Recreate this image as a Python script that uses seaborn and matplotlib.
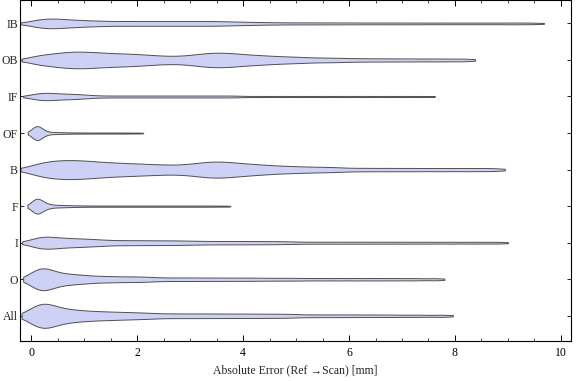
import numpy as np
import pandas as pd
import seaborn as sns
import matplotlib.pyplot as plt
from matplotlib.ticker import MultipleLocator

categories = ["IB", "OB", "IF", "OF", "B", "F", "I", "O", "All"]

err_ib = [0.02, 0.1, 0.18, 0.25, 0.3, 0.36, 0.43, 0.5, 0.58, 0.66, 0.75, 0.85, 0.95,
          1.06, 1.18, 1.3, 1.45, 1.6, 1.75, 1.9, 2.05, 2.2, 2.35, 2.5, 2.65, 2.8, 2.95,
          3.1, 3.25, 3.4, 3.55, 3.7, 3.9, 4.1, 4.35, 4.65, 5.0, 5.35, 5.72, 6.1, 6.5,
          6.9, 7.32, 7.75, 8.18, 8.62, 9.05, 9.46]
err_ob = [0.05, 0.15, 0.27, 0.4, 0.52, 0.6, 0.68, 0.76, 0.84, 0.92, 1.0, 1.08, 1.17,
          1.26, 1.35, 1.45, 1.55, 1.66, 1.76, 1.87, 1.98, 2.1, 2.23, 2.37, 2.53, 2.72,
          2.9, 3.05, 3.17, 3.28, 3.37, 3.46, 3.55, 3.64, 3.73, 3.83, 3.94, 4.06, 4.19,
          4.33, 4.48, 4.65, 4.85, 5.05, 5.3, 5.6, 5.9, 6.3, 6.73, 7.18, 7.66, 8.15]
err_if = [0.03, 0.09, 0.14, 0.19, 0.23, 0.27, 0.32, 0.38, 0.45, 0.52, 0.59, 0.66, 0.74,
          0.82, 0.9, 0.99, 1.09, 1.3, 1.52, 1.74, 1.96, 2.18, 2.4, 2.62, 2.84, 3.06,
          3.28, 3.5, 3.72, 3.94, 4.33, 4.72, 5.11, 5.5, 5.89, 6.27, 6.66, 7.05, 7.44]
err_of = [0.02, 0.04, 0.05, 0.06, 0.07, 0.08, 0.09, 0.095, 0.1, 0.105, 0.11, 0.115,
          0.12, 0.13, 0.14, 0.15, 0.16, 0.17, 0.19, 0.21, 0.24, 0.3, 0.37, 0.45, 0.54,
          0.64, 0.76, 0.9, 1.05, 1.2, 1.36, 1.52, 1.68, 1.85, 2.03]
err_b = [0.04, 0.13, 0.23, 0.33, 0.43, 0.5, 0.58, 0.66, 0.74, 0.82, 0.9, 0.98, 1.07,
         1.16, 1.25, 1.35, 1.46, 1.57, 1.68, 1.8, 1.92, 2.05, 2.18, 2.32, 2.47, 2.63,
         2.8, 2.96, 3.1, 3.21, 3.31, 3.4, 3.49, 3.58, 3.67, 3.77, 3.88, 4.0, 4.13, 4.27,
         4.42, 4.6, 4.8, 5.02, 5.27, 5.55, 5.85, 6.3, 6.76, 7.23, 7.72, 8.21, 8.7]
err_f = [0.02, 0.04, 0.055, 0.065, 0.075, 0.085, 0.095, 0.1, 0.105, 0.11, 0.12, 0.13,
         0.14, 0.15, 0.165, 0.18, 0.2, 0.23, 0.26, 0.3, 0.36, 0.43, 0.51, 0.6, 0.7,
         0.82, 0.96, 1.12, 1.3, 1.48, 1.66, 1.84, 2.02, 2.2, 2.38, 2.56, 2.74, 2.92,
         3.1, 3.28, 3.46, 3.67]
err_i = [0.03, 0.09, 0.15, 0.2, 0.25, 0.3, 0.36, 0.43, 0.51, 0.59, 0.68, 0.76, 0.85,
         0.94, 1.04, 1.14, 1.25, 1.37, 1.52, 1.68, 1.84, 2.0, 2.16, 2.33, 2.5, 2.67,
         2.85, 3.03, 3.25, 3.48, 3.72, 3.96, 4.2, 4.45, 4.7, 5.0, 5.4, 5.8, 6.2, 6.61,
         7.03, 7.46, 7.9, 8.35, 8.8]
err_o = [0.02, 0.05, 0.08, 0.11, 0.14, 0.17, 0.2, 0.23, 0.26, 0.29, 0.32, 0.36, 0.41,
         0.47, 0.54, 0.61, 0.68, 0.76, 0.84, 0.93, 1.02, 1.13, 1.25, 1.38, 1.51, 1.65,
         1.8, 1.95, 2.1, 2.26, 2.48, 2.72, 2.96, 3.2, 3.45, 3.7, 3.96, 4.22, 4.5, 4.8,
         5.1, 5.45, 5.8, 6.15, 6.5, 6.85, 7.22, 7.63]
err_all = [0.02, 0.05, 0.08, 0.11, 0.14, 0.17, 0.2, 0.23, 0.26, 0.29, 0.32, 0.36, 0.41,
           0.46, 0.52, 0.59, 0.66, 0.73, 0.81, 0.89, 0.98, 1.07, 1.17, 1.28, 1.39, 1.5,
           1.62, 1.75, 1.88, 2.02, 2.17, 2.33, 2.54, 2.75, 2.96, 3.17, 3.38, 3.6, 3.82,
           4.04, 4.27, 4.5, 4.74, 4.98, 5.33, 5.69, 6.06, 6.44, 6.84, 7.28, 7.76]

series = {"IB": err_ib, "OB": err_ob, "IF": err_if, "OF": err_of, "B": err_b,
          "F": err_f, "I": err_i, "O": err_o, "All": err_all}

# styling: violin full widths (category units) and kernel bandwidths (mm)
violin_width = {"IB": 0.265, "OB": 0.456, "IF": 0.2, "OF": 0.38, "B": 0.52,
                "F": 0.41, "I": 0.33, "O": 0.60, "All": 0.66}
kernel_bw = {"IB": 0.22, "OB": 0.23, "IF": 0.18, "OF": 0.085, "B": 0.24,
             "F": 0.09, "I": 0.2, "O": 0.17, "All": 0.2}

df = pd.DataFrame([(c, v) for c in categories for v in series[c]],
                  columns=["group", "error"])

sns.set_style("ticks")
plt.rcParams["font.family"] = ["Liberation Serif", "DejaVu Serif"]
plt.rcParams["font.size"] = 8.5

fig, ax = plt.subplots(figsize=(5.76, 3.81), dpi=100)
fig.subplots_adjust(left=20 / 576, right=571 / 576, top=0.999, bottom=1 - 341 / 381)

fill = "#CDD1F5"
edge = "#505050"
for c in categories:
    sub = df[df["group"] == c]
    factor = kernel_bw[c] / np.std(sub["error"].to_numpy(), ddof=1)
    sns.violinplot(data=sub, x="error", y="group", order=categories, orient="h",
                   density_norm="width", width=violin_width[c], bw_method=factor,
                   cut=1, inner=None, color=fill, saturation=1, linecolor=edge,
                   linewidth=0.7, ax=ax)

ax.set_xlim(-0.21, 10.19)
ax.set_ylim(8.69, -0.63)
ax.xaxis.set_major_locator(MultipleLocator(2))
ax.xaxis.set_minor_locator(MultipleLocator(0.5))
ax.tick_params(axis="x", which="major", direction="in", length=4, width=0.7,
               top=True, bottom=True, pad=4, labelsize=8.5, colors="black")
ax.tick_params(axis="x", which="minor", direction="in", length=2.2, width=0.6,
               top=True, bottom=True)
ax.tick_params(axis="y", which="major", direction="in", length=3, width=0.7,
               left=True, right=True, pad=1.5, labelsize=8.5)
for s in ax.spines.values():
    s.set_visible(True)
    s.set_linewidth(0.8)
    s.set_color("black")
ax.set_ylabel("")
ax.set_xlabel("Absolute Error (Ref \u2192Scan) [mm]", fontsize=8.5, labelpad=4)

fig.savefig("out.png", dpi=100)
